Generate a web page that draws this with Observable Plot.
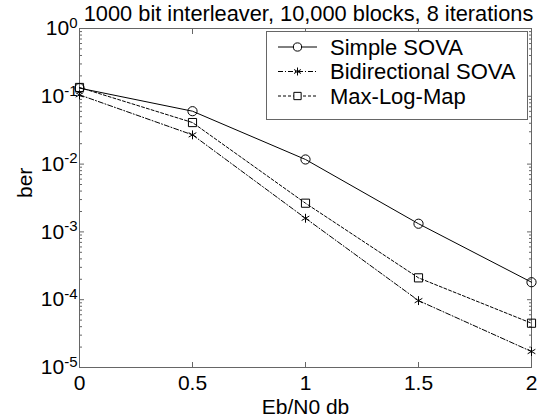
<!DOCTYPE html>
<html><head><meta charset="utf-8">
<script src="https://cdn.jsdelivr.net/npm/d3@7"></script>
<script src="https://cdn.jsdelivr.net/npm/@observablehq/plot@0.6"></script>
<style>
body{margin:0;background:#fff;}
#chart{position:relative;width:540px;height:417px;}
</style></head><body><div id="chart"></div>
<script>
// ---- data ----
const ebn0 = [0, 0.5, 1, 1.5, 2];
const simpleSova = [0.132, 0.0603, 0.0117, 0.00132, 0.000181];
const bidirSova = [0.105, 0.027, 0.00159, 0.000097, 0.0000172];
const maxLogMap = [0.135, 0.041, 0.00265, 0.00021, 0.000045];
const seriesNames = ["Simple SOVA", "Bidirectional SOVA", "Max-Log-Map"];
const seriesValues = [simpleSova, bidirSova, maxLogMap];
const xTicks = [0, 0.5, 1, 1.5, 2];
const xTickLabels = ["0", "0.5", "1", "1.5", "2"];
const yTicks = [1e-5, 1e-4, 1e-3, 1e-2, 1e-1, 1];
const yTickExponents = ["-5", "-4", "-3", "-2", "-1", "0"];
const titleText = "1000 bit interleaver, 10,000 blocks, 8 iterations";
const xLabel = "Eb/N0 db";
const yLabel = "ber";

// ---- styles ----
const seriesSymbols = ["circle", "asterisk", "square"];
const seriesDash = [null, "5,2,1,2", "3,2"];
const seriesR = [4.6, 4.2, 4.6];
const font = "'Liberation Sans', Arial, Helvetica, sans-serif";
const frameColor = "#666";

const rows = [];
seriesNames.forEach((s, i) => ebn0.forEach((x, j) => rows.push({series: s, x, y: seriesValues[i][j]})));

// minor log ticks
const minorTicks = [];
for (let k = -5; k < 0; k++) for (let m = 2; m <= 9; m++) minorTicks.push(m * Math.pow(10, k));
const yLabelText = yTicks.map((d, i) => "10^" + yTickExponents[i]);

const lineMarks = seriesNames.map((s, i) =>
  Plot.line(rows.filter(r => r.series === s), {x: "x", y: "y", stroke: "black", strokeWidth: 1, strokeDasharray: seriesDash[i]}));
const dotMarks = seriesNames.map((s, i) =>
  Plot.dot(rows.filter(r => r.series === s), {x: "x", y: "y", symbol: () => seriesSymbols[i], r: seriesR[i], stroke: "black", fill: "none", strokeWidth: 1}));

const plot = Plot.plot({
  width: 540, height: 417,
  marginLeft: 79, marginRight: 9, marginTop: 28, marginBottom: 50,
  style: {fontFamily: font, background: "white", color: "black"},
  x: {domain: [0, 2]},
  y: {type: "log", domain: [1e-5, 1]},
  symbol: {type: "identity"},
  marks: [
    Plot.frame({stroke: frameColor}),
    Plot.axisY({anchor: "left", ticks: yTicks, tickSize: 5, dx: 5, tickFormat: () => "", label: null, stroke: frameColor}),
    Plot.axisY({anchor: "right", ticks: yTicks, tickSize: 5, dx: -5, tickFormat: () => "", label: null, stroke: frameColor}),
    Plot.axisY({anchor: "left", ticks: minorTicks, tickSize: 3, dx: 3, tickFormat: () => "", label: null, stroke: frameColor}),
    Plot.axisY({anchor: "right", ticks: minorTicks, tickSize: 3, dx: -3, tickFormat: () => "", label: null, stroke: frameColor}),
    Plot.axisX({anchor: "bottom", ticks: xTicks, tickSize: 5, dy: -5, tickFormat: () => "", label: null, stroke: frameColor}),
    Plot.axisX({anchor: "top", ticks: xTicks, tickSize: 5, dy: 5, tickFormat: () => "", label: null, stroke: frameColor}),
    Plot.text(xTicks, {x: d => d, text: (d, i) => xTickLabels[i], frameAnchor: "bottom", dy: 16, lineAnchor: "middle", fontSize: 21, fill: "black"}),
    Plot.text(yTicks, {y: d => d, text: (d, i) => yLabelText[i], frameAnchor: "left", textAnchor: "end", dx: -2, lineAnchor: "middle", fontSize: 21, fill: "black"}),
    Plot.text([titleText], {frameAnchor: "top", dx: 3, dy: -14, lineAnchor: "middle", fontSize: 21.8, fill: "black"}),
    Plot.text([xLabel], {frameAnchor: "bottom", dy: 40, lineAnchor: "middle", fontSize: 21, fill: "black"}),
    Plot.text([yLabel], {frameAnchor: "left", dx: -54, rotate: -90, lineAnchor: "middle", fontSize: 21, fill: "black"}),
    ...lineMarks,
    ...dotMarks
  ]
});

// superscript exponents
d3.select(plot).selectAll("text").each(function() {
  const t = this.textContent;
  if (t.startsWith("10^")) {
    const exp = t.slice(3);
    const el = d3.select(this);
    el.text(null);
    el.append("tspan").text("10");
    el.append("tspan").attr("font-size", 15).attr("dy", "-0.5em").text(exp);
  }
});

// legend
const svg = d3.select(plot);
const lg = svg.append("g").attr("font-family", font).attr("font-size", 22).attr("text-anchor", "start");
lg.append("rect").attr("x", 266.5).attr("y", 31.5).attr("width", 261).attr("height", 88)
  .attr("fill", "white").attr("stroke", frameColor);
const rowY = [47, 71.5, 96];
seriesNames.forEach((s, i) => {
  const g = lg.append("g");
  g.append("line").attr("x1", 278).attr("x2", 317).attr("y1", rowY[i]).attr("y2", rowY[i])
    .attr("stroke", "black").attr("stroke-dasharray", seriesDash[i]);
  const sym = {circle: d3.symbolCircle, asterisk: d3.symbolAsterisk, square: d3.symbolSquare}[seriesSymbols[i]];
  g.append("path").attr("d", d3.symbol(sym, Math.PI * seriesR[i] * seriesR[i] * 0.8)())
    .attr("transform", `translate(297.5,${rowY[i]})`).attr("fill", "white").attr("stroke", "black");
  g.append("text").attr("x", 330).attr("y", rowY[i]).attr("dy", "0.35em").attr("text-anchor", "start").text(s);
});

document.getElementById("chart").appendChild(plot);
</script></body></html>
